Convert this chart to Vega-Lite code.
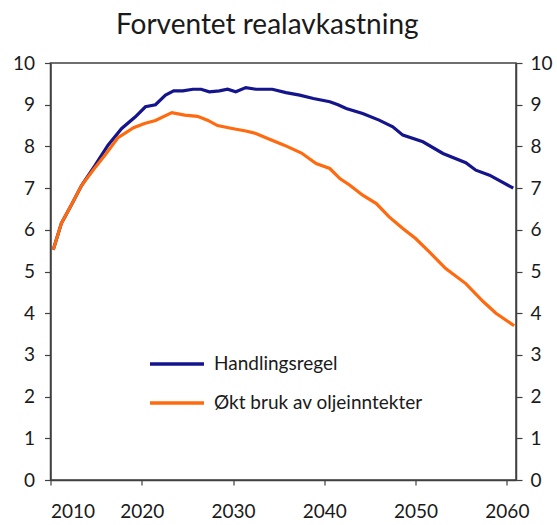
{
  "$schema": "https://vega.github.io/schema/vega-lite/v6.json",
  "width": 465.5,
  "height": 417,
  "autosize": {"type": "none"},
  "padding": {"left": 50.5, "top": 63, "right": 41, "bottom": 45},
  "title": {"text": "Forventet realavkastning", "font": "Lato", "fontSize": 28, "fontWeight": "normal", "color": "#1a1a1a", "anchor": "middle", "dx": -16, "baseline": "alphabetic", "offset": -8},
  "datasets": {
    "d": [
      {"serie": "Handlingsregel", "year": 2010.3, "value": 5.52},
      {"serie": "Handlingsregel", "year": 2011.2, "value": 6.16},
      {"serie": "Handlingsregel", "year": 2012.3, "value": 6.6},
      {"serie": "Handlingsregel", "year": 2013.4, "value": 7.06},
      {"serie": "Handlingsregel", "year": 2014.9, "value": 7.55},
      {"serie": "Handlingsregel", "year": 2016.3, "value": 8.03},
      {"serie": "Handlingsregel", "year": 2017.8, "value": 8.43},
      {"serie": "Handlingsregel", "year": 2019.3, "value": 8.71},
      {"serie": "Handlingsregel", "year": 2020.4, "value": 8.95},
      {"serie": "Handlingsregel", "year": 2021.5, "value": 9.0},
      {"serie": "Handlingsregel", "year": 2022.6, "value": 9.23},
      {"serie": "Handlingsregel", "year": 2023.5, "value": 9.33},
      {"serie": "Handlingsregel", "year": 2024.5, "value": 9.33},
      {"serie": "Handlingsregel", "year": 2025.6, "value": 9.37},
      {"serie": "Handlingsregel", "year": 2026.5, "value": 9.37},
      {"serie": "Handlingsregel", "year": 2027.4, "value": 9.31},
      {"serie": "Handlingsregel", "year": 2028.5, "value": 9.33},
      {"serie": "Handlingsregel", "year": 2029.4, "value": 9.37},
      {"serie": "Handlingsregel", "year": 2030.3, "value": 9.31},
      {"serie": "Handlingsregel", "year": 2031.4, "value": 9.41},
      {"serie": "Handlingsregel", "year": 2032.5, "value": 9.37},
      {"serie": "Handlingsregel", "year": 2034.3, "value": 9.37},
      {"serie": "Handlingsregel", "year": 2035.8, "value": 9.29},
      {"serie": "Handlingsregel", "year": 2037.3, "value": 9.23},
      {"serie": "Handlingsregel", "year": 2038.8, "value": 9.15},
      {"serie": "Handlingsregel", "year": 2040.6, "value": 9.07},
      {"serie": "Handlingsregel", "year": 2041.5, "value": 9.0},
      {"serie": "Handlingsregel", "year": 2042.4, "value": 8.91},
      {"serie": "Handlingsregel", "year": 2044.2, "value": 8.79},
      {"serie": "Handlingsregel", "year": 2046.0, "value": 8.63},
      {"serie": "Handlingsregel", "year": 2047.5, "value": 8.47},
      {"serie": "Handlingsregel", "year": 2048.6, "value": 8.27},
      {"serie": "Handlingsregel", "year": 2050.8, "value": 8.11},
      {"serie": "Handlingsregel", "year": 2053.0, "value": 7.83},
      {"serie": "Handlingsregel", "year": 2055.5, "value": 7.61},
      {"serie": "Handlingsregel", "year": 2056.6, "value": 7.43},
      {"serie": "Handlingsregel", "year": 2058.1, "value": 7.31},
      {"serie": "Handlingsregel", "year": 2060.7, "value": 7.0},
      {"serie": "Økt bruk av oljeinntekter", "year": 2010.3, "value": 5.52},
      {"serie": "Økt bruk av oljeinntekter", "year": 2011.2, "value": 6.16},
      {"serie": "Økt bruk av oljeinntekter", "year": 2012.3, "value": 6.6},
      {"serie": "Økt bruk av oljeinntekter", "year": 2013.4, "value": 7.06},
      {"serie": "Økt bruk av oljeinntekter", "year": 2014.8, "value": 7.47},
      {"serie": "Økt bruk av oljeinntekter", "year": 2016.0, "value": 7.8},
      {"serie": "Økt bruk av oljeinntekter", "year": 2017.4, "value": 8.21},
      {"serie": "Økt bruk av oljeinntekter", "year": 2019.1, "value": 8.45},
      {"serie": "Økt bruk av oljeinntekter", "year": 2020.3, "value": 8.55},
      {"serie": "Økt bruk av oljeinntekter", "year": 2021.5, "value": 8.62},
      {"serie": "Økt bruk av oljeinntekter", "year": 2023.3, "value": 8.81},
      {"serie": "Økt bruk av oljeinntekter", "year": 2024.7, "value": 8.75},
      {"serie": "Økt bruk av oljeinntekter", "year": 2026.1, "value": 8.72},
      {"serie": "Økt bruk av oljeinntekter", "year": 2027.2, "value": 8.63},
      {"serie": "Økt bruk av oljeinntekter", "year": 2028.3, "value": 8.5},
      {"serie": "Økt bruk av oljeinntekter", "year": 2029.9, "value": 8.43},
      {"serie": "Økt bruk av oljeinntekter", "year": 2031.4, "value": 8.37},
      {"serie": "Økt bruk av oljeinntekter", "year": 2032.5, "value": 8.31},
      {"serie": "Økt bruk av oljeinntekter", "year": 2033.8, "value": 8.19},
      {"serie": "Økt bruk av oljeinntekter", "year": 2035.6, "value": 8.03},
      {"serie": "Økt bruk av oljeinntekter", "year": 2037.5, "value": 7.84},
      {"serie": "Økt bruk av oljeinntekter", "year": 2039.1, "value": 7.59},
      {"serie": "Økt bruk av oljeinntekter", "year": 2040.6, "value": 7.47},
      {"serie": "Økt bruk av oljeinntekter", "year": 2041.7, "value": 7.23},
      {"serie": "Økt bruk av oljeinntekter", "year": 2042.8, "value": 7.07},
      {"serie": "Økt bruk av oljeinntekter", "year": 2044.2, "value": 6.83},
      {"serie": "Økt bruk av oljeinntekter", "year": 2045.7, "value": 6.63},
      {"serie": "Økt bruk av oljeinntekter", "year": 2047.1, "value": 6.31},
      {"serie": "Økt bruk av oljeinntekter", "year": 2048.6, "value": 6.03},
      {"serie": "Økt bruk av oljeinntekter", "year": 2050.0, "value": 5.79},
      {"serie": "Økt bruk av oljeinntekter", "year": 2051.5, "value": 5.47},
      {"serie": "Økt bruk av oljeinntekter", "year": 2053.3, "value": 5.07},
      {"serie": "Økt bruk av oljeinntekter", "year": 2055.5, "value": 4.71},
      {"serie": "Økt bruk av oljeinntekter", "year": 2057.4, "value": 4.28},
      {"serie": "Økt bruk av oljeinntekter", "year": 2058.8, "value": 4.0},
      {"serie": "Økt bruk av oljeinntekter", "year": 2060.8, "value": 3.7}
    ]
  },
  "data": {"name": "d"},
  "encoding": {
    "x": {
      "field": "year", "type": "quantitative",
      "scale": {"domain": [2010, 2061], "nice": false, "zero": false},
      "axis": {"title": null, "values": [2010, 2020, 2030, 2040, 2050, 2060], "format": "d", "tickSize": 5, "labelPadding": 17, "labelDx": 2, "grid": false}
    },
    "color": {
      "field": "serie", "type": "nominal",
      "scale": {"domain": ["Handlingsregel", "Økt bruk av oljeinntekter"], "range": ["#14148c", "#ff6a0f"]},
      "legend": {
        "title": null, "orient": "none", "legendX": 97.5, "legendY": 272, "direction": "vertical",
        "symbolType": "stroke", "symbolSize": 2916, "symbolStrokeWidth": 3.5,
        "labelFont": "Lato", "labelFontSize": 19, "labelColor": "#1a1a1a", "labelOffset": 8, "labelLimit": 400,
        "padding": 0, "rowPadding": -2
      }
    }
  },
  "layer": [
    {
      "transform": [{"filter": "datum.serie === 'Handlingsregel'"}],
      "mark": {"type": "line", "strokeWidth": 3.2},
      "encoding": {
        "y": {"field": "value", "type": "quantitative", "scale": {"domain": [0, 10], "nice": false},
          "axis": {"orient": "left", "title": null, "values": [0,1,2,3,4,5,6,7,8,9,10], "tickSize": 6, "labelPadding": 10, "grid": false}}
      }
    },
    {
      "transform": [{"filter": "datum.serie !== 'Handlingsregel'"}],
      "mark": {"type": "line", "strokeWidth": 3.2},
      "encoding": {
        "y": {"field": "value", "type": "quantitative", "scale": {"domain": [0, 10], "nice": false},
          "axis": {"orient": "right", "title": null, "values": [0,1,2,3,4,5,6,7,8,9,10], "tickSize": 6, "labelPadding": 8, "grid": false}}
      }
    }
  ],
  "resolve": {"axis": {"y": "independent"}},
  "config": {
    "view": {"stroke": "#404040", "strokeWidth": 1.5},
    "axis": {
      "labelFont": "Lato", "labelFontSize": 19, "labelColor": "#1a1a1a",
      "domainColor": "#404040", "domainWidth": 1.5, "tickColor": "#404040", "tickWidth": 1.2
    }
  }
}
